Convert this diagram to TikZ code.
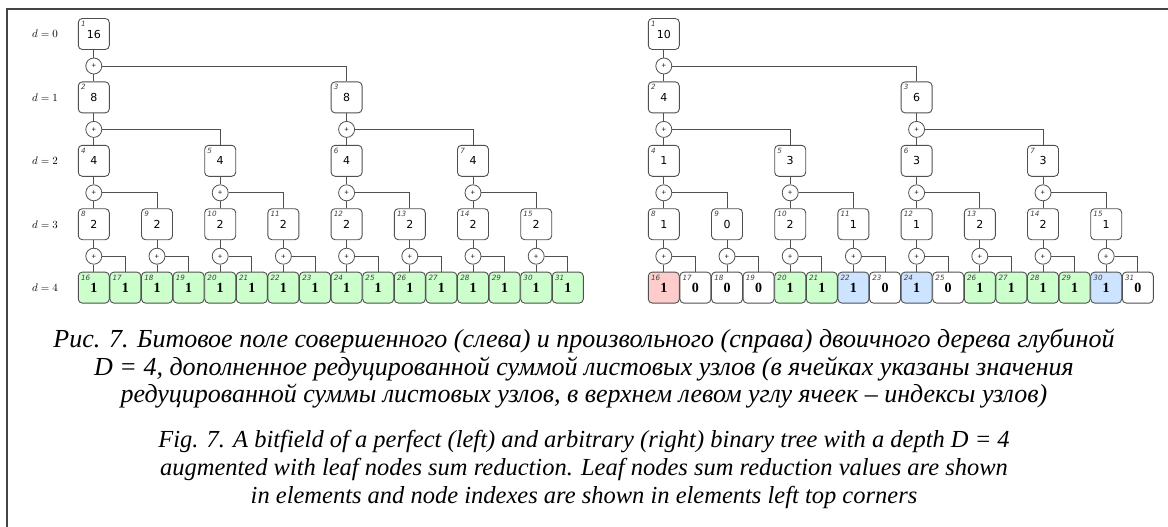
\documentclass[tikz,border=0pt]{standalone}
\usepackage{fontspec}
\setmainfont{Liberation Serif}
\newfontfamily\valfont{DejaVu Sans}
\usetikzlibrary{calc}
\definecolor{leafgreen}{RGB}{204,255,204}
\definecolor{leafred}{RGB}{255,204,204}
\definecolor{leafblue}{RGB}{204,228,255}
\definecolor{bordergray}{RGB}{80,80,80}
\definecolor{framecol}{RGB}{68,68,68}
\tikzset{
  box/.style={draw=bordergray, rounded corners=4pt, minimum width=31pt, minimum height=31pt, inner sep=0pt, line width=0.9pt, fill=white, font=\valfont\fontsize{11}{11}\selectfont},
  leafbox/.style={box, font=\bfseries\fontsize{14}{14}\selectfont},
  idx/.style={anchor=north west, inner sep=0pt, text=black!75, font=\valfont\itshape\fontsize{7.2}{7.2}\selectfont},
  plus/.style={draw=bordergray, circle, minimum size=16pt, inner sep=0pt, line width=0.8pt, fill=white, font=\valfont\fontsize{6}{6}\selectfont},
  conn/.style={draw=bordergray, line width=0.9pt},
  dlab/.style={font=\fontsize{11}{11}\selectfont},
  captru/.style={font=\itshape\fontsize{26}{26}\selectfont, inner sep=0pt},
  capten/.style={font=\itshape\fontsize{24.5}{24.5}\selectfont, inner sep=0pt}
}
\begin{document}
\begin{tikzpicture}[x=1pt,y=-1pt]
\useasboundingbox (0,0) rectangle (1168,527);
\draw[framecol, line width=2pt] (7,527) -- (7,9.5) -- (1168,9.5);
% depth labels
\foreach \d in {0,...,4}{
  \node[dlab] (dl-\d) at (45,34+63.4*\d) {$d = \d$};
}
% ---------- left tree ----------
\foreach \n/\v in {1/16,2/8,3/8,4/4,5/4,6/4,7/4,8/2,9/2,10/2,11/2,12/2,13/2,14/2,15/2}{
  \pgfmathtruncatemacro\dd{(\n>=2)+(\n>=4)+(\n>=8)}
  \pgfmathtruncatemacro\kk{\n-2^\dd}
  \pgfmathsetmacro\xx{93.8+\kk*2^(4-\dd)*31.6}
  \pgfmathsetmacro\yy{34+63.4*\dd}
  \node[box] (L-\n) at (\xx,\yy) {\v};
  \node[idx] (Li-\n) at ($(L-\n.north west)+(3,3)$) {\n};
}
\foreach \n/\c in {16/leafgreen,17/leafgreen,18/leafgreen,19/leafgreen,20/leafgreen,21/leafgreen,22/leafgreen,23/leafgreen,24/leafgreen,25/leafgreen,26/leafgreen,27/leafgreen,28/leafgreen,29/leafgreen,30/leafgreen,31/leafgreen}{
  \pgfmathsetmacro\xx{93.8+(\n-16)*31.6}
  \node[leafbox, fill=\c] (L-\n) at (\xx,287.6) {1};
  \node[idx] (Li-\n) at ($(L-\n.north west)+(3,3)$) {\n};
}
\foreach \n in {1,...,15}{
  \pgfmathtruncatemacro\a{2*\n}
  \pgfmathtruncatemacro\b{2*\n+1}
  \node[plus] (Lc-\n) at ($(L-\n.center)+(0,32)$) {+};
  \draw[conn] (L-\n) -- (Lc-\n) -- (L-\a);
  \draw[conn] (Lc-\n) -| (L-\b);
}
% ---------- right tree ----------
\foreach \n/\v in {1/10,2/4,3/6,4/1,5/3,6/3,7/3,8/1,9/0,10/2,11/1,12/1,13/2,14/2,15/1}{
  \pgfmathtruncatemacro\dd{(\n>=2)+(\n>=4)+(\n>=8)}
  \pgfmathtruncatemacro\kk{\n-2^\dd}
  \pgfmathsetmacro\xx{663.8+\kk*2^(4-\dd)*31.6}
  \pgfmathsetmacro\yy{34+63.4*\dd}
  \node[box] (R-\n) at (\xx,\yy) {\v};
  \node[idx] (Ri-\n) at ($(R-\n.north west)+(3,3)$) {\n};
}
\foreach \n/\v/\c in {16/1/leafred,17/0/white,18/0/white,19/0/white,20/1/leafgreen,21/1/leafgreen,22/1/leafblue,23/0/white,24/1/leafblue,25/0/white,26/1/leafgreen,27/1/leafgreen,28/1/leafgreen,29/1/leafgreen,30/1/leafblue,31/0/white}{
  \pgfmathsetmacro\xx{663.8+(\n-16)*31.6}
  \node[leafbox, fill=\c] (R-\n) at (\xx,287.6) {\v};
  \node[idx] (Ri-\n) at ($(R-\n.north west)+(3,3)$) {\n};
}
\foreach \n in {1,...,15}{
  \pgfmathtruncatemacro\a{2*\n}
  \pgfmathtruncatemacro\b{2*\n+1}
  \node[plus] (Rc-\n) at ($(R-\n.center)+(0,32)$) {+};
  \draw[conn] (R-\n) -- (Rc-\n) -- (R-\a);
  \draw[conn] (Rc-\n) -| (R-\b);
}
% ---------- captions ----------
\node[captru] (cap1) at (584,341) {Рис. 7. Битовое поле совершенного (слева) и произвольного (справа) двоичного дерева глубиной};
\node[captru] (cap2) at (584,369) {D = 4, дополненное редуцированной суммой листовых узлов (в ячейках указаны значения};
\node[captru] (cap3) at (584,396.5) {редуцированной суммы листовых узлов, в верхнем левом углу ячеек – индексы узлов)};
\node[capten] (cap4) at (584,442) {Fig. 7. A bitfield of a perfect (left) and arbitrary (right) binary tree with a depth D = 4};
\node[capten] (cap5) at (584,469.5) {augmented with leaf nodes sum reduction. Leaf nodes sum reduction values are shown};
\node[capten] (cap6) at (584,497) {in elements and node indexes are shown in elements left top corners};
\end{tikzpicture}
\end{document}
